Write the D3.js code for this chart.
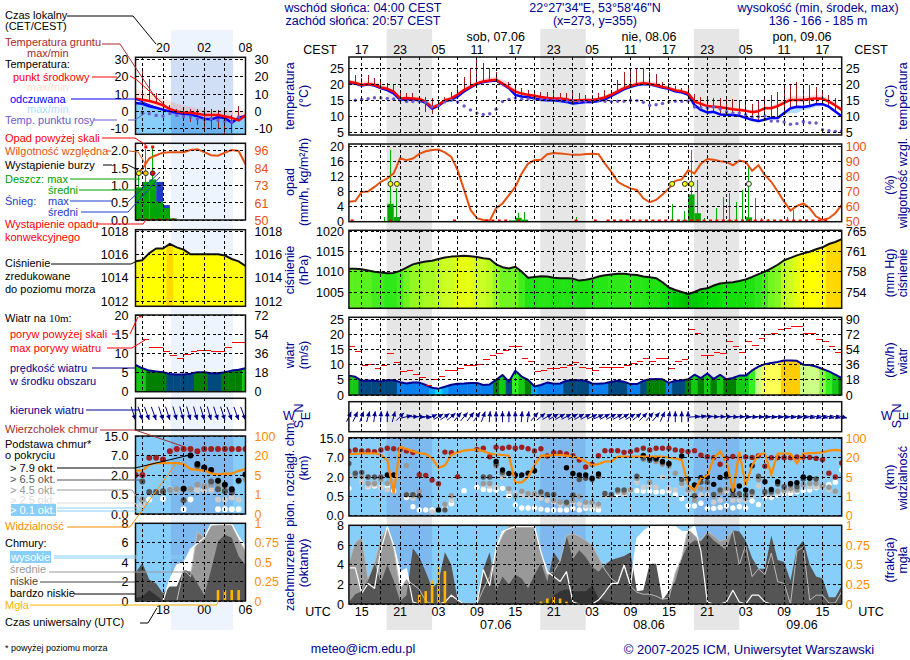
<!DOCTYPE html>
<html>
<head>
<meta charset="utf-8">
<script src="https://cdn.jsdelivr.net/npm/d3@7/dist/d3.min.js"></script>
<style>
  html, body { margin: 0; background: #fff; }
  svg { display: block; font-family: "Liberation Sans", Arial, sans-serif; font-size: 12px; }
</style>
</head>
<body>
<div class="canvas"></div>
<script>
const _ = null;

// ---- main panel (hourly, 13 UTC 06.06 - 18 UTC 09.06)
const localHours = ['17','23','05','11','17','23','05','11','17','23','05','11','17'];
const utcHours = ['15','21','03','09','15','21','03','09','15','21','03','09','15'];
const dayLabels = ['sob, 07.06','nie, 08.06','pon, 09.06'];
const dateLabels = ['07.06','08.06','09.06'];

const temp = [20.8,20.4,19.8,20.1,19.8,19,18.6,17.7,15.6,15.7,15.6,15.4,14.6,12.7,13.6,15,15.6,16.8,18.2,19.3,20.3,20.9,21.2,21.4,20.2,19,17.7,17.1,16.7,16.4,16,15.7,15.6,15.6,15.3,14.9,15,15.1,15.1,15.4,15.9,16.8,17.8,18.8,19.5,20,20.3,20.1,19.7,19.2,18.8,18.1,17.8,17.2,14.6,13.9,13.2,13,12.8,12.5,12.2,12,11.7,11.3,11.6,12.5,12.5,13.2,14.2,15.1,15.1,15.1,15.4,15.6,15.5,14.6,13.4,12];
const feel = [20.6,20.2,19.6,20,19.6,18.8,18.2,17.2,15.2,15.3,15.3,15,14.2,12.4,13.3,14.8,15.2,16.2,17.8,19,20.1,20.7,21,21.2,20,18.8,16.7,16.2,16,15.6,15.2,15,15,14.8,14.5,14,14.2,14.5,14.5,14.8,15.3,16.4,17.4,18.5,19.2,19.8,20.1,20,19.5,19,18.6,17.8,17.5,16.8,13.5,12,11.2,11.4,10.6,10.5,10.4,10.2,9.5,8.9,8.5,9,9.5,9.5,11,12.5,13,12.9,13.2,13.8,13.8,13,11.5,10];
const tempHi = [21.5,21.2,20.8,21,20.8,20,19.2,18.2,16.2,16.3,16.2,16,15,13.5,14.2,15.5,16.2,17.5,19,20.2,21,21.8,22.2,22.3,21.4,20.5,18.5,17.6,17.1,16.8,16.5,16.2,16.2,16.2,15.9,15.5,15.5,15.6,15.6,16,16.5,17.5,18.5,19.5,20.3,20.8,21.2,21,20.6,20,19.5,18.8,18.3,17.8,15.5,14.8,14.2,13.8,13.5,13.2,13,12.8,12.3,12,12.3,13.2,13.4,14.2,15.4,16.2,16.5,16.2,16.4,16.6,16.4,15.6,14.2,12.7];
const feelLo = [20.2,19.8,19.2,19.6,19.2,18.4,17.8,16.8,14.8,14.9,14.9,14.6,13.8,12,12.9,14.4,14.8,15.8,17.4,18.6,19.7,20.3,20.6,20.8,19.6,18.4,16.2,15.7,15.5,15.1,14.7,14.5,14.5,14.3,14,13.5,13.7,14,14,14.3,14.8,15.9,16.9,18,18.7,19.3,19.6,19.5,19,18.5,18.1,17.3,17,16.3,13,11.5,10.7,10.9,10.1,10,9.9,9.7,9,8.4,8,8.5,9,9,10.5,11,11,12,12.3,13,13.4,12.6,11,9.6];
const groundMax = [_,22.9,21.9,22.9,21.9,20.8,20.3,19.8,17.7,17.2,17.2,16.1,16.1,15.6,15.1,16.1,17.7,18.7,22.4,25,27.6,26.6,25,24,20.8,20.8,19.3,18.8,18.2,18.2,17.7,17.7,17.7,17.2,17.2,17.2,17.2,16.7,16.7,17.2,18.2,17.3,21.4,24,24.5,25,25,24,23.1,20.8,20.3,19.5,19,18.8,16.9,16,15.8,15.8,15.6,15.6,15.3,15.1,14.9,14,15.1,16.1,16.7,17.7,19.8,19.8,20.6,19.8,19.8,19.3,17.2,16.7,15.6,_];
const groundMin = [_,20.4,19.6,20,19.6,18.8,18.2,17.2,15.2,15.3,15.3,15,11.5,10.6,13.3,14.8,15.2,16.2,17.8,19,20.1,20.7,21,21.2,20,18.8,16.7,16.2,16,15.6,15.2,15,15,14.8,14.5,14,14.2,14.5,14.5,14.8,15.3,16.4,17.4,18.5,19.2,19.8,20.1,20,19.5,19,18.6,17.8,17.5,16.8,13.5,12,11.2,11.4,10.6,10.5,10.4,10.2,9.5,8.9,8.5,9,9.5,9.5,11,12.5,13,12.9,13.2,13.8,13.8,13,11.5,_];
const dew = [_,15,15.3,15.5,15.8,15.7,15.6,15.4,15,14.6,14.6,14.6,14.4,13,13.3,14.5,15,14.5,13.2,12,11,10.6,10.8,12.2,14.6,15.3,15.7,15.3,15.4,15.4,15.2,15.2,15,15,14.8,14.8,14.6,14.7,14.8,14.9,14.7,14.6,14.7,14.7,15,14.9,14.4,13.4,13.6,14,14.5,14.7,14.7,14.8,12.9,12.7,12.6,12.9,12.3,11.4,11,11,10.5,9.8,9.9,10.1,8.5,8.5,8.2,7.5,7.7,8.3,8,7.9,5.8,5.5,5.3,5.5];

const humidity = [63.2,63.6,69.6,70,73,76.4,78.6,82,92,90.7,91.9,95,96.7,97.6,97.8,96,93,84,71,57.7,52.2,51,50.6,58.8,62,67.6,73,82,88.5,90.7,91,94.7,95.6,95.2,94.8,94.3,94.3,94.8,95,94.8,88.5,83,76.4,74,72,71,65.4,62.8,64.3,68,72,77,78,84,82,88.5,91.6,91,90,89.6,87.4,90.5,89.6,83.7,87.4,80.8,76.4,70,63.2,57.3,60.3,62,58.8,53.3,51,52.2,55.5,61];
const rainMean = [0,0,0,0,0,0,4.7,1.2,0,0,0,0,0,0,0,0,0,0,0,0,0,0,0,0,0,.3,1,.5,0,0,0,0,0,0,0,0,0,0,0,0,0,0,0,0,0,0,0,0,0,0,0,0,.3,7.2,2.2,0,0,0,0,.3,0,0,1.1,0,0,0,0,0,0,0,0,0,0,0,0,0,0,0];
const rainMax = [0,0,0,0,0,1.3,19,8.8,0,0,0,0,0,0,0,0,0,0,0,0,0,0,0,0,0,0,2.2,2.5,0,0,0,0,0,0,0,1.2,0,0,0,0,0,0,0,0,0,0,0,0,0,0,4.7,0,2.8,19,11,.9,0,3.5,6.6,7.5,5.3,8.5,14.5,6.2,.9,.7,0,0,1.1,3,0,0,0,0,0,0,0,0];
const convectiveHours = [0,6,16,21,22,23,24,26,35,38,40,41,42,43,44,45,46,47,48,49,50,51,52,53,54,55,56,57,58,59,60,61,62,63,64,65,66,67,68,69,70,71,72,73,74];
const stormHours = [6,7,50,52,53,62];

const pressure = [1010.7,1010.7,1010.6,1010.3,1010,1009.8,1009.6,1009.7,1010.2,1011,1011.8,1012.2,1012.5,1012.7,1013.1,1013.5,1013.7,1013.8,1013.9,1013.8,1013.6,1013.3,1013.1,1011.8,1011.1,1010.8,1011.2,1010,1008.5,1008.7,1008.9,1008.8,1008.5,1008.4,1008.4,1008.3,1007.8,1008,1008.3,1008.8,1009.1,1009.3,1009.5,1009.5,1009.3,1009.2,1008.8,1008.6,1008.4,1007.4,1006.1,1005.5,1005,1004.5,1005,1005.7,1005.9,1006.6,1007.1,1007.3,1007.4,1007.7,1008.1,1008.7,1009.4,1010,1010.8,1011.7,1012.8,1013.4,1014,1014.5,1014.9,1015.5,1016,1016.8,1017.3,1018];
const wind = [6.4,6,4.7,4.8,4.7,4.5,4.9,4.9,4.2,3.8,4.1,4.1,3.3,2.4,2.1,2.7,3.4,3.7,3.8,4,4,3.3,3.5,5,6.6,4.4,8,6.1,5,2.8,3.3,4.1,3.7,3.8,4.7,4.9,4.9,4.7,3.8,3.7,3.9,4.4,4.7,4.4,3.6,3.6,4.7,5.2,5.3,5.2,4,4.7,4.8,5.2,6.7,5.6,7.1,5.3,6.7,5.2,5.6,6.4,6.4,8.1,9.4,10.2,10.6,10.9,11.4,11.4,11.3,10,9.9,9.4,8.6,7.8,6.7,5.6];
const gust = [15.9,14.3,9.9,10.1,8.9,9.6,13.6,10.6,7.7,8,6.8,5.9,3.2,5.2,6.2,8,8,8.9,9.6,9.6,10,11.6,13.2,13.6,14.7,15.9,15.9,11.9,11.2,7.6,8.2,8.9,8.6,9.2,9.6,10.6,9.2,8.7,8,9.1,9.2,9.2,9.2,9.9,10.4,10.9,11.9,11.2,11.9,12.2,8.9,11.2,11.6,21.5,20.3,13.2,13.2,13.9,13.6,17.6,15.9,13.9,17.6,16.2,18.6,19.9,20.3,21.5,21.9,22.6,22.6,20.3,20.3,18.2,17.6,15.9,13.9,_];
const windDir = [25,25,20,15,8,3,0,15,45,75,90,95,90,65,60,55,50,40,40,38,35,20,5,0,0,0,0,5,8,40,50,60,60,60,62,60,60,62,65,65,62,62,60,60,60,50,45,42,40,25,10,0,0,0,85,80,85,90,90,90,95,92,95,95,95,95,98,98,100,100,102,102,103,105,105,105,105,105];

const baseTop = [9.8,10.2,9.8,9.8,9.5,10.2,10.9,10.7,10.4,9.8,9.1,2.6,2.4,1.77,1.48,9.3,9,2.1,_,_,10.4,10.9,7.4,11.3,10.9,11.3,10.9,11.3,10.7,9.8,10.7,7.7,9,9,8.5,7.8,6.4,4.6,5.3,7.8,9.9,9.9,9.9,9.2,9.5,10.2,10.9,10.2,10.9,10.9,10.9,10.2,9.9,9.5,9.9,8,7.4,7,5.3,6.8,7.5,7,7.3,7.1,7.8,4.8,7,7,7,7,7.3,7.2,7.1,6.8,6.5,3,2,5.6];
const base79 = [_,_,_,_,_,_,2.5,2.5,_,_,_,_,_,_,.15,_,_,_,_,_,_,_,_,6,3.8,2.9,2.5,2.5,3,3.6,_,_,_,_,4.4,2.9,2.5,2.5,1.9,2.8,_,_,_,_,_,_,7.86,6.8,6.8,6,5.5,_,7.7,1.82,1.38,1.95,2,1.43,1.97,2.7,.99,1.3,.99,4.9,_,1.64,1.04,1.64,_,1.5,1.56,2,1.9,_,_,_,_,_];
const base65 = [5.5,3,3.2,2,2,2,_,_,_,.62,.62,.55,_,_,_,.15,_,_,_,_,_,2,2,5.3,3.2,_,_,_,_,_,.85,.65,.65,_,.35,.6,1.8,1.9,1.8,2.2,.73,.65,1,1,_,2.2,6.9,6.3,6.5,5.7,5.3,_,1.8,_,.55,1.6,1.6,.65,1,2,.65,.7,.6,.86,2.2,.86,.86,1.45,1.25,1.4,1.25,1.85,1.95,1.85,_,_,_,_];
const base45 = [_,2.2,2,1.5,1.5,1.8,1.5,_,_,5,.62,.9,_,_,_,.3,.55,_,_,_,_,1.5,1.5,4.8,2.7,1.1,.55,.9,.7,.7,.7,.6,.4,.35,.3,.4,.5,.35,.35,.3,.65,.6,.9,.8,1,1.9,6.5,1.6,6,5.2,4.8,3,1.5,1,.4,1.1,1.1,.5,.8,1.1,.55,.55,.45,.7,1.8,.75,.75,.9,1,1.1,1,1.4,1.5,1.5,1.3,1.2,.9,_];
const base25 = [2.2,_,1.6,1.3,1.4,1.2,1,2.1,_,.65,.45,.7,_,.1,_,.25,.4,_,_,_,_,1.4,1.3,1.2,2,.9,.7,.6,.5,.5,.45,.4,.35,.3,.3,.35,.3,.25,.25,.25,.55,.55,.8,.75,.95,1.6,1.2,1.3,1.2,2,1.1,1,1.4,.8,.4,.6,.6,.35,.4,.9,.4,.4,.4,.55,1.3,.65,.65,.75,.85,.95,.95,1.2,1.25,1.25,1.2,1,.85,_];
const base01 = [1.12,_,1.97,1.25,1.3,1.2,1.28,.94,_,.47,.23,.15,.15,.15,_,.19,.31,_,.94,_,1.2,1.04,1,1,1.12,.55,.28,.2,.2,.2,.17,.15,.15,.15,.15,.19,.15,.19,.17,.15,.6,.6,.65,.73,.93,.94,.91,.91,.84,.86,.91,.65,.45,.25,.25,.32,.19,.19,.21,.26,.2,.23,.2,.38,.29,.49,.47,.6,.73,.73,.86,.94,1,1.17,1.25,1.43,1.6,3.8];
const visibility = [35,36,38,38,38,32,18,1.6,65,56,47,39,35,19.5,12,14,31,42,49,52,53,47,37,33,31,28,3.9,3.9,5,14,28,28,31,31,28,24,19.5,17,14,15,17,17,24,24,24,24,24,24,24,24,20,19.5,18,3.3,2.2,4.7,6,19.5,45,17,2,45,3.3,14,33,37,7,37,37,37,15.6,37,39,40,42,49,52,49];

const cloudHigh = [3.7,3.7,1.1,2.1,1.6,5.5,7.9,6,3.3,3.6,.2,0,0,0,0,.2,.9,.4,0,0,0,3.5,1.9,5.7,7.4,7.7,7.9,7.9,7.9,7.9,5.3,3.3,2.8,2.3,3.3,.2,0,0,0,.4,1.2,2.1,2.1,4,1.9,6.7,7.4,7.9,8,8,8,7.9,7.4,7.4,8,5.4,.2,0,0,.2,1.4,.2,0,.9,.9,.2,0,0,0,0,0,0,0,0,0,0,0,0];
const cloudMid = [4.2,6.3,6.8,2.6,4.2,6.7,7.9,5.7,1.5,2.5,2,1.5,.3,0,0,0,0,0,0,0,0,1.5,2.8,5.5,7,8,8,8,8,8,5.5,3,3.3,4.4,7,7.2,6.9,6.5,6,4.8,3.5,2.6,2.1,3.9,1.8,1.2,1,1,.8,.5,.6,3.2,4.7,7.7,7,6.5,7.4,7,6.4,6.7,7.5,4,6,2.8,3.6,3,5.2,2.3,2.1,0,5.4,5.8,.4,.9,.9,.1,.1,1.3];
const cloudLow = [.2,1,1.3,2.4,4.2,2.2,4,2.4,.3,.9,5.7,4.8,3.3,1.6,2.3,5.3,4,.4,.1,0,0,3.6,5.3,1.3,2.8,2,3,2.6,1.6,3,4.2,2.3,5.3,4.3,7,4.6,5.5,4.8,3.8,3.3,4,4.5,4.7,4.9,5.3,1.3,1.4,4.1,4.1,.4,1.3,2.3,4.7,6,6.5,6.4,7.2,6.5,6,5.5,7.5,7.4,6.5,4.7,3.6,3.6,7,4.5,4.3,2.4,5.7,6.5,4,2.8,2.6,.7,.7,1.9];
const cloudVLow = [0,0,0,0,0,0,0,0,0,0,0,0,0,0,0,0,0,0,0,0,0,0,0,0,0,0,0,0,0,0,0,0,.9,1.3,1.5,1.3,1.3,1.3,1.9,.6,.3,.2,.1,0,0,0,0,0,0,0,0,0,0,0,0,0,0,0,0,0,0,0,0,0,0,0,0,0,0,0,0,0,0,0,0,0,0,0];
const fog = [0,0,0,0,0,0,0,0,0,0,0,.115,.165,.3,.5,.42,0,0,0,0,0,0,0,0,0,0,0,0,0,0,.03,.07,.09,.07,.03,0,0,0,0,0,0,0,0,0,0,0,0,0,0,0,0,0,0,0,0,0,0,0,0,0,0,0,0,0,0,0,0,0,0,0,0,0,0,0,0,0,0,0];

// ---- side panel (hourly, 14 UTC - 06 UTC)
const sideLocal = ['20','02','08'];
const sideUtc = ['18','00','06'];
const sTemp = [7.3,6.7,6,5,3.5,1.5,0,-.6,-.8,-1.3,-2.1,-2.1,-2.1,-2.9,-3.7,-5.2,-2.3];
const sFeel = [4.8,4.4,3,2.1,1,0,-.8,-1.3,-1.7,-2.9,-4.2,-4.6,-3.3,-3.8,-6.5,-3.7,-2.7];
const sTempHi = [13,11.5,10,8.5,7.3,5.8,4.4,3.4,2.5,1.5,.6,.6,.6,.6,.6,.2,.4];
const sGroundMax = [_,24.8,19,10.4,6.3,3.5,1.5,1.5,1.5,1.5,1.5,1.5,.6,1.5,-2.3,3,_];
const sGroundMin = [_,6.7,6,5,3.5,1.5,0,-3.3,-6.2,-8.1,-10,-11,-9.6,-12.8,-12.2,-5.2,_];
const sDew = [_,-1,-1.3,-2.3,-2.7,-1.3,-2.3,-2.9,-3.3,-4.2,-4.6,-4.2,-5.2,-5.6,-6.2,-3.3,_];
const sHumidity = [80,84,91,93,94.7,95,95,95,96.5,97,95,93,92.7,94.7,96.5,95.8,87];
const sRain = [.94,1.1,1.17,.53,.34,.05,0,0,0,0,0,0,0,0,0,0,0];
const sSnow = [0,0,0,1.1,.43,0,0,0,0,0,0,0,0,0,0,0,0];
const sRainMax = [1.36,2.05,2.1,0,0,0,0,0,0,0,0,0,0,0,0,0,0];
const sPressure = [1015.4,1015.5,1016.1,1016.5,1016.5,1016.9,1016.6,1016.4,1016,1016,1016,1016,1016,1015.9,1015.6,1015.4,1015];
const sWind = [7,6.1,5.5,5.3,5.1,4.6,4.5,4.5,4.7,5.1,5.1,4.8,4.8,5.1,5.5,5.7,6.1];
const sGust = [_,13.5,11.6,11.4,10.4,9.4,8.7,9.7,10.4,10.7,10.8,10.4,10.4,11.6,12.7,12.9,_];
const sWindDir = [162,162,160,160,162,162,164,164,164,164,164,164,162,162,160,160,160];
const sBaseTop = [2,2,6.4,6.4,6,8.7,9.7,9.7,9.7,8.7,9.7,9.7,9.7,9.7,9.7,9.7,9.7];
const sBase79 = [_,_,_,_,_,_,_,.95,7,4.8,3.9,3.3,1.55,1.25,.9,1.55,2.1];
const sBase65 = [_,1.5,.7,.7,.75,_,_,.35,_,4.3,3.6,1.5,.9,.75,.65,_,_];
const sBase45 = [_,.37,_,_,.7,.85,.9,.9,.9,1.25,1.1,1.25,1.25,.9,.8,_,1.7];
const sBase25 = [.2,.25,_,_,_,.9,.85,_,_,.85,.85,.85,.37,.37,.42,.37,_];
const sBase01 = [_,.25,.37,_,.39,_,_,.12,.37,.85,.85,_,.12,.12,.12,.12,_];
const sVisibility = [8.4,8.4,12.9,14.2,14.2,14.2,14.2,13.4,9.5,8.9,8.4,6.3,5.5,6,6,8.2,9.5];
const sHigh = [0,0,0,0,0,2.2,3.7,3.9,5.3,5.9,6.5,7.9,7.9,7.9,7.9,6.6,5.6];
const sMid = [0,0,0,0,0,0,0,3.2,2.5,7.1,6.5,7.7,7.8,7.8,7.8,6.3,5.1];
const sLow = [2.9,3.9,2.2,1.8,.8,1.5,1.5,3.2,3,1.8,.6,3.2,6.1,6.8,6.5,4.6,3.7];
const sVLow = [.3,.45,1.1,.6,0,0,0,0,0,0,0,0,0,0,0,0,0];
const sFog = [0,0,0,0,0,0,0,0,0,0,0,0,.14,.14,.14,.14,0];

// ---- layout
const navy = '#000090', orange = '#ff8c00', humColor = '#e8500f', sky = '#87cefa', skyNight = '#7db9ee';
const dash = '3,2.5';
const W = 910, H = 660;

const svg = d3.select('.canvas').append('svg').attr('width', W).attr('height', H);
const x = d3.scaleLinear().domain([0, 77]).range([348.9, 841.7]);
const sx = d3.scaleLinear().domain([0, 16]).range([135.5, 245.5]);
const hourW = x(1) - x(0), sHourW = sx(1) - sx(0);
const mainHours = d3.range(0, 13).map(k => 2 + 6 * k);
const mainGrid = d3.range(0, 25).map(k => 2 + 3 * k);
const sideHours = [4, 10, 16];
const sideGrid = [1, 4, 7, 10, 13];
const nights = [[5.9, 13], [29.9, 37], [53.9, 61]];

// night bands
nights.forEach(n => {
  svg.append('rect').attr('x', x(n[0])).attr('y', 29).attr('width', x(n[1]) - x(n[0])).attr('height', 601).attr('fill', '#e6e6e6');
});
svg.append('rect').attr('x', sx(5.15)).attr('y', 30).attr('width', sx(14.2) - sx(5.15)).attr('height', 600).attr('fill', '#eef4fe');

const clipCount = { n: 0 };
const panel = (xs, top, bottom, yDomain, yRange) => {
  const y = d3.scaleLinear().domain(yDomain).range(yRange);
  const [x0, x1] = xs.range();
  const g = svg.append('g');
  clipCount.n += 1;
  const id = `clip${clipCount.n}`;
  g.append('clipPath').attr('id', id).append('rect').attr('x', x0).attr('y', top).attr('width', x1 - x0).attr('height', bottom - top);
  const marks = g.append('g').attr('clip-path', `url(#${id})`);
  return { y, g, marks, id, x0, x1, top, bottom, xs };
};

const grid = (p, yVals, xVals) => {
  const dg = p.g.append('g').attr('stroke', '#000').attr('stroke-width', 1).attr('stroke-dasharray', dash).attr('shape-rendering', 'crispEdges');
  yVals.forEach(v => dg.append('line').attr('x1', p.x0).attr('x2', p.x1).attr('y1', p.y(v)).attr('y2', p.y(v)));
  xVals.forEach(v => dg.append('line').attr('x1', p.xs(v)).attr('x2', p.xs(v)).attr('y1', p.top).attr('y2', p.bottom));
};

const frame = p => {
  p.g.append('rect').attr('x', p.x0).attr('y', p.top).attr('width', p.x1 - p.x0).attr('height', p.bottom - p.top)
    .attr('fill', 'none').attr('stroke', '#111').attr('stroke-width', 1.5);
};

const labels = (p, vals, texts, side, color, gap) => {
  const axis = (side === 'left' ? d3.axisLeft(p.y) : d3.axisRight(p.y))
    .tickValues(vals).tickSize(0).tickPadding(0).tickFormat((d, i) => texts[i]);
  const ax = p.g.append('g').attr('transform', `translate(${side === 'left' ? p.x0 - gap : p.x1 + gap},0)`).call(axis);
  ax.select('.domain').remove();
  ax.selectAll('text').attr('font-size', 12.5).attr('font-family', 'inherit').attr('fill', color || '#000');
};

const lineOf = (xs, y, data) => d3.line().defined(d => d !== null).x((d, i) => xs(i)).y(d => y(d))(data);

const drawLine = (p, data, color, width) => {
  p.marks.append('path').attr('d', lineOf(p.xs, p.y, data)).attr('fill', 'none').attr('stroke', color).attr('stroke-width', width).attr('stroke-linejoin', 'round');
};

const bandArea = (p, hi, lo, color) => {
  const area = d3.area().x((d, i) => p.xs(i)).y0((d, i) => p.y(lo[i])).y1((d, i) => p.y(hi[i]));
  p.marks.append('path').attr('d', area(hi)).attr('fill', color);
};

const fillUnder = (p, data, color) => {
  const area = d3.area().x((d, i) => p.xs(i)).y0(p.bottom).y1(d => p.y(d));
  p.marks.append('path').attr('d', area(data)).attr('fill', color);
};

const whiskers = (p, hi, lo) => {
  hi.forEach((d, i) => {
    if (d === null) return;
    p.marks.append('line').attr('x1', p.xs(i)).attr('x2', p.xs(i)).attr('y1', p.y(d)).attr('y2', p.y(lo[i]))
      .attr('stroke', '#a01c1c').attr('stroke-width', 1).attr('shape-rendering', 'crispEdges');
  });
};

const dots = (p, data, r, color) => {
  p.marks.selectAll(null).data(data.map((d, i) => [d, i]).filter(d => d[0] !== null)).enter().append('circle')
    .attr('cx', d => p.xs(d[1])).attr('cy', d => p.y(d[0])).attr('r', r).attr('fill', color);
};

const columnFill = (p, data, colorOf, w) => {
  const id = `${p.id}a`;
  const area = d3.area().x((d, i) => p.xs(i)).y0(p.bottom).y1(d => p.y(d));
  p.g.append('clipPath').attr('id', id).append('path').attr('d', area(data));
  const cols = p.marks.append('g').attr('clip-path', `url(#${id})`);
  data.forEach((d, i) => {
    cols.append('rect').attr('x', p.xs(i) - w / 2).attr('y', p.top).attr('width', w + .5).attr('height', p.bottom - p.top).attr('fill', colorOf(d));
  });
};

const pressureColor = d3.scaleLinear().domain([1004, 1006, 1009.5, 1011, 1013.5, 1014.5])
  .range(['#00b800', '#00d800', '#2ee81a', '#70f520', '#ccff22', '#ffff00']).clamp(true);
const pressureStep = d => (d >= 1016.7 ? '#ffd800' : pressureColor(Math.round(d * 2) / 2));
const windColor = d3.scaleThreshold().domain([2.2, 3, 4.3, 5, 6, 7.8, 8.4, 9, 10.2, 11.2])
  .range(['#00e5ff', '#00a8ff', '#0a80f0', '#004a80', '#008000', '#14c814', '#33f020', '#80ff40', '#ccff88', '#ffff55', '#ffcc00']);

const arrows = (p, dirs, cy, len, anchorHead) => {
  const ag = p.g.append('g').attr('stroke', navy).attr('fill', navy);
  dirs.forEach((b, i) => {
    const a = b * Math.PI / 180;
    const dx = Math.sin(a), dy = -Math.cos(a);
    const hx = p.xs(i) + (anchorHead ? 0 : dx * len / 2);
    const hy = cy + (anchorHead ? 0 : dy * len / 2);
    ag.append('line').attr('x1', hx - dx * len).attr('y1', hy - dy * len).attr('x2', hx).attr('y2', hy).attr('stroke-width', 1);
    ag.append('path').attr('stroke', 'none')
      .attr('d', `M${hx},${hy}L${hx - dx * 5 - dy * 2.4},${hy - dy * 5 + dx * 2.4}L${hx - dx * 5 + dy * 2.4},${hy - dy * 5 - dx * 2.4}Z`);
  });
};

const baseScale = (top, bottom) => [[0, .5, 2, 7, 15], d3.range(5).map(k => bottom + (top - bottom) * k / 4)];
const visLabels = [0, 1, 5, 20, 100];

const skyBackground = p => {
  p.marks.append('rect').attr('x', p.x0).attr('y', p.top).attr('width', p.x1 - p.x0).attr('height', p.bottom - p.top).attr('fill', sky);
  (p.xs === x ? nights.map(n => [x(n[0]), x(n[1])]) : [[sx(5.15), sx(14.2)]]).forEach(n => {
    p.marks.append('rect').attr('x', n[0]).attr('y', p.top).attr('width', n[1] - n[0]).attr('height', p.bottom - p.top).attr('fill', skyNight);
  });
};

const drawBase = (p, r, series, vis, yVis) => {
  skyBackground(p);
  ['#fff', '#ccc', '#999', '#555', '#000', '#a02020'].forEach((c, k) => dots(p, series[k], r, c));
  p.marks.append('path').attr('d', lineOf(p.xs, yVis, vis)).attr('fill', 'none').attr('stroke', orange).attr('stroke-width', 2.2);
};

const drawClouds = (p, high, mid, low, vlow) => {
  skyBackground(p);
  fillUnder(p, high, '#fff');
  fillUnder(p, mid, '#999');
  fillUnder(p, low, '#555');
  fillUnder(p, vlow, '#333');
  drawLine(p, mid, '#bbb', 1);
  drawLine(p, high, '#fff', 1.2);
};

const fogBars = (p, yFog, data, w) => {
  data.forEach((d, i) => {
    if (d > 0) p.marks.append('rect').attr('x', p.xs(i) - w / 2).attr('y', yFog(d)).attr('width', w).attr('height', p.bottom - yFog(d)).attr('fill', '#ffb400');
  });
};

// ---- main panels
const pTemp = panel(x, 57, 135, [5, 25], [132.3, 68.3]);
bandArea(pTemp, tempHi, temp, '#ffd8d8');
bandArea(pTemp, feel, feelLo, '#b4dcff');
whiskers(pTemp, groundMax, groundMin);
drawLine(pTemp, feel, '#0000ff', 2.5);
drawLine(pTemp, temp, '#ff0000', 2.5);
dots(pTemp, dew, 1.7, '#6a5acd');
grid(pTemp, [5, 10, 15, 20, 25], mainGrid);
labels(pTemp, [5, 10, 15, 20, 25], ['5', '10', '15', '20', '25'], 'left', '#000', 5);
labels(pTemp, [5, 10, 15, 20, 25], ['5', '10', '15', '20', '25'], 'right', '#000', 4);
frame(pTemp);

const pRain = panel(x, 144, 221.7, [0, 20], [221.5, 146.3]);
const yHum = d3.scaleLinear().domain([50, 100]).range([221.5, 146.3]);
rainMax.forEach((d, i) => {
  if (d > 0) pRain.marks.append('line').attr('x1', x(i) + hourW / 2).attr('x2', x(i) + hourW / 2).attr('y1', pRain.y(d)).attr('y2', pRain.y(0)).attr('stroke', '#00b000').attr('stroke-width', 1).attr('shape-rendering', 'crispEdges');
});
rainMean.forEach((d, i) => {
  if (d > 0) pRain.marks.append('rect').attr('x', x(i)).attr('y', pRain.y(d)).attr('width', hourW).attr('height', pRain.y(0) - pRain.y(d)).attr('fill', '#00a800');
});
pRain.marks.append('path').attr('d', lineOf(x, yHum, humidity)).attr('fill', 'none').attr('stroke', humColor).attr('stroke-width', 2);
convectiveHours.forEach(i => {
  pRain.marks.append('rect').attr('x', x(i) + hourW / 2 - 1.5).attr('y', 219.5).attr('width', 3).attr('height', 2.5).attr('fill', '#f00');
});
grid(pRain, [0, 4, 8, 12, 16, 20], mainGrid);
stormHours.forEach((i, k) => {
  pRain.marks.append('circle').attr('cx', x(i) + hourW / 2).attr('cy', pRain.y(10)).attr('r', 2.5)
    .attr('fill', k === 5 ? '#f4f4d0' : '#ffff00').attr('stroke', '#333').attr('stroke-width', 1);
});
labels(pRain, [0, 4, 8, 12, 16, 20], ['0', '4', '8', '12', '16', '20'], 'left', '#000', 5);
labels({ ...pRain, y: yHum }, [50, 60, 70, 80, 90, 100], ['50', '60', '70', '80', '90', '100'], 'right', humColor, 4);
frame(pRain);

const pPress = panel(x, 230.3, 308.3, [1005, 1020], [292, 231]);
columnFill(pPress, pressure, pressureStep, hourW);
drawLine(pPress, pressure, '#111', 2);
grid(pPress, [1005, 1010, 1015, 1020], mainGrid);
labels(pPress, [1005, 1010, 1015, 1020], ['1005', '1010', '1015', '1020'], 'left', '#000', 5);
labels(pPress, [1005, 1010, 1015, 1020], ['754', '758', '761', '765'], 'right', '#000', 4);
frame(pPress);

const pWind = panel(x, 317.3, 395, [0, 25], [395, 319.3]);
columnFill(pWind, wind, windColor, hourW);
drawLine(pWind, wind, '#000090', 2);
gust.forEach((d, i) => {
  if (d !== null) pWind.marks.append('line').attr('x1', x(i)).attr('x2', x(i + 1)).attr('y1', pWind.y(d)).attr('y2', pWind.y(d)).attr('stroke', '#f00').attr('stroke-width', 1).attr('shape-rendering', 'crispEdges');
});
grid(pWind, [0, 5, 10, 15, 20, 25], mainGrid);
labels(pWind, [0, 5, 10, 15, 20, 25], ['0', '5', '10', '15', '20', '25'], 'left', '#000', 5);
labels(pWind, [0, 5, 10, 15, 20, 25], ['0', '18', '36', '54', '72', '90'], 'right', '#000', 4);
frame(pWind);

const pDir = panel(x, 401.7, 431.7, [0, 1], [431.7, 401.7]);
grid(pDir, [], mainGrid);
arrows(pDir, windDir, 416.7, 11, false);
frame(pDir);

const [bDom, bRange] = baseScale(438.3, 515.7);
const pBase = panel(x, 437.7, 516, [0, 1], [516, 437.7]);
pBase.y = d3.scaleLinear().domain(bDom).range(bRange);
const yVis = d3.scaleLinear().domain(visLabels).range(bRange);
drawBase(pBase, 2.7, [base01, base25, base45, base65, base79, baseTop], visibility, yVis);
grid(pBase, bDom, mainGrid);
labels(pBase, bDom, ['0.0', '0.5', '2.0', '7.0', '15.0'], 'left', '#000', 5);
labels({ ...pBase, y: yVis }, visLabels, ['0', '1', '5', '20', '100'], 'right', orange, 4);
frame(pBase);

const pCloud = panel(x, 525.3, 604, [0, 8], [604, 525.7]);
const yFog = d3.scaleLinear().domain([0, 1]).range([604, 525.7]);
drawClouds(pCloud, cloudHigh, cloudMid, cloudLow, cloudVLow);
fogBars(pCloud, yFog, fog, 2.6);
grid(pCloud, [0, 2, 4, 6, 8], mainGrid);
labels(pCloud, [0, 2, 4, 6, 8], ['0', '2', '4', '6', '8'], 'left', '#000', 5);
labels({ ...pCloud, y: yFog }, [0, .25, .5, .75, 1], ['0', '0.25', '0.5', '0.75', '1'], 'right', orange, 4);
frame(pCloud);

// ---- side panels
const qTemp = panel(sx, 57.3, 134.3, [-10, 30], [128.7, 59.5]);
fillUnder(qTemp, sFeel, sky);
bandArea(qTemp, sTempHi, sFeel, '#ffe6dc');
qTemp.marks.append('rect').attr('x', sx(5.15)).attr('y', 57).attr('width', sx(14.2) - sx(5.15)).attr('height', 78).attr('fill', '#d0def6').style('mix-blend-mode', 'multiply');
whiskers(qTemp, sGroundMax, sGroundMin);
drawLine(qTemp, sFeel, '#0000ff', 2.5);
drawLine(qTemp, sTemp, '#ff0000', 2.5);
qTemp.marks.selectAll(null).data(sDew.map((d, i) => [d, i]).filter(d => d[0] !== null)).enter().append('rect')
  .attr('x', d => sx(d[1]) - 1.5).attr('y', d => qTemp.y(d[0]) - 1.5).attr('width', 3).attr('height', 3).attr('fill', '#6a5acd');
grid(qTemp, [-10, 0, 10, 20, 30], sideGrid);
labels(qTemp, [-10, 0, 10, 20, 30], ['-10', '0', '10', '20', '30'], 'left', '#000', 7);
labels(qTemp, [-10, 0, 10, 20, 30], ['-10', '0', '10', '20', '30'], 'right', '#000', 9);
frame(qTemp);

const qRain = panel(sx, 143.3, 220, [0, 2], [220, 150.7]);
const yHumS = d3.scaleLinear().domain([50, 96]).range([220, 150.7]);
sRainMax.forEach((d, i) => {
  if (d > 0) qRain.marks.append('line').attr('x1', sx(i) + sHourW / 2).attr('x2', sx(i) + sHourW / 2).attr('y1', qRain.y(d)).attr('y2', qRain.y(0)).attr('stroke', '#00b000').attr('stroke-width', 1).attr('shape-rendering', 'crispEdges');
});
sSnow.forEach((d, i) => {
  if (d > 0) qRain.marks.append('rect').attr('x', sx(i)).attr('y', qRain.y(d)).attr('width', sHourW).attr('height', qRain.y(0) - qRain.y(d)).attr('fill', '#1c3cc8');
});
sRain.forEach((d, i) => {
  if (d > 0) qRain.marks.append('rect').attr('x', sx(i)).attr('y', qRain.y(d)).attr('width', sHourW).attr('height', qRain.y(0) - qRain.y(d)).attr('fill', '#00a800');
});
[1, 2].forEach(i => qRain.marks.append('rect').attr('x', sx(i) + sHourW / 2 - 1.5).attr('y', 145.5).attr('width', 3).attr('height', 3).attr('fill', '#f00'));
[0, 1, 2, 3, 4, 5].forEach(i => qRain.marks.append('rect').attr('x', sx(i) + sHourW / 2 - 1.2).attr('y', 218.5).attr('width', 2.4).attr('height', 2).attr('fill', '#f00'));
qRain.marks.append('path').attr('d', lineOf(sx, yHumS, sHumidity)).attr('fill', 'none').attr('stroke', humColor).attr('stroke-width', 2);
grid(qRain, [0, .5, 1, 1.5, 2], sideGrid);
['#ffff00', '#ffc000', '#f00000'].forEach((c, i) => {
  qRain.marks.append('circle').attr('cx', sx(i) + sHourW / 2).attr('cy', qRain.y(1.35)).attr('r', 2.4).attr('fill', c).attr('stroke', '#333');
});
labels(qRain, [0, .5, 1, 1.5, 2], ['0.0', '0.5', '1.0', '1.5', '2.0'], 'left', '#000', 7);
labels({ ...qRain, y: yHumS }, [50, 61, 73, 84, 96], ['50', '61', '73', '84', '96'], 'right', humColor, 9);
frame(qRain);

const qPress = panel(sx, 229.7, 306.3, [1012, 1018], [301, 231]);
columnFill(qPress, sPressure, pressureStep, sHourW);
drawLine(qPress, sPressure, '#111', 2);
grid(qPress, [1012, 1014, 1016, 1018], sideGrid);
labels(qPress, [1012, 1014, 1016, 1018], ['1012', '1014', '1016', '1018'], 'left', '#000', 7);
labels(qPress, [1012, 1014, 1016, 1018], ['1012', '1014', '1016', '1018'], 'right', '#000', 9);
frame(qPress);

const qWind = panel(sx, 315, 391.7, [0, 20], [391.7, 315]);
columnFill(qWind, sWind, windColor, sHourW);
drawLine(qWind, sWind, '#000090', 2);
sGust.forEach((d, i) => {
  if (d !== null) qWind.marks.append('line').attr('x1', sx(i)).attr('x2', sx(i + 1)).attr('y1', qWind.y(d)).attr('y2', qWind.y(d)).attr('stroke', '#f00').attr('stroke-width', 1).attr('shape-rendering', 'crispEdges');
});
qWind.marks.append('circle').attr('cx', sx(.7)).attr('cy', 316).attr('r', 1.5).attr('fill', '#f00');
grid(qWind, [0, 5, 10, 15, 20], sideGrid);
labels(qWind, [0, 5, 10, 15, 20], ['0', '5', '10', '15', '20'], 'left', '#000', 7);
labels(qWind, [0, 5, 10, 15, 20], ['0', '18', '36', '54', '72'], 'right', '#000', 9);
frame(qWind);

const qDir = panel(sx, 398.3, 430, [0, 1], [430, 398.3]);
grid(qDir, [], sideGrid);
arrows(qDir, sWindDir, 420, 14, true);
frame(qDir);

const [sbDom, sbRange] = baseScale(436, 514);
const qBase = panel(sx, 436, 514, [0, 1], [514, 436]);
qBase.y = d3.scaleLinear().domain(sbDom).range(sbRange);
const yVisS = d3.scaleLinear().domain(visLabels).range(sbRange);
drawBase(qBase, 3, [sBase01, sBase25, sBase45, sBase65, sBase79, sBaseTop], sVisibility, yVisS);
grid(qBase, sbDom, sideGrid);
labels(qBase, sbDom, ['0.0', '0.5', '2.0', '7.0', '15.0'], 'left', '#000', 7);
labels({ ...qBase, y: yVisS }, visLabels, ['0', '1', '5', '20', '100'], 'right', orange, 9);
frame(qBase);

const qCloud = panel(sx, 523.3, 601, [0, 8], [601, 523]);
const yFogS = d3.scaleLinear().domain([0, 1]).range([601, 523]);
drawClouds(qCloud, sHigh, sMid, sLow, sVLow);
fogBars(qCloud, yFogS, sFog, 2.6);
grid(qCloud, [0, 2, 4, 6, 8], sideGrid);
labels(qCloud, [0, 2, 4, 6, 8], ['0', '2', '4', '6', '8'], 'left', '#000', 7);
labels({ ...qCloud, y: yFogS }, [0, .25, .5, .75, 1], ['0', '0.25', '0.5', '0.75', '1'], 'right', orange, 9);
frame(qCloud);

// ---- hour labels
const txt = (t, px, py, color, anchor, size, extra) => {
  const el = svg.append('text').attr('x', px).attr('y', py).attr('fill', color || '#000')
    .attr('text-anchor', anchor || 'start').attr('dominant-baseline', 'central').attr('font-size', size || 11).text(t);
  if (extra) extra(el);
  return el;
};
mainHours.forEach((h, k) => {
  txt(localHours[k], x(h), 50, '#000', 'middle', 12.5);
  txt(utcHours[k], x(h), 612, '#000', 'middle', 12.5);
});
sideHours.forEach((h, k) => {
  txt(sideLocal[k], sx(h), 48, '#000', 'middle', 12.5);
  txt(sideUtc[k], sx(h), 610, '#000', 'middle', 12.5);
});
[495.7, 649, 802].forEach((px, k) => {
  txt(dayLabels[k], px, 37, '#000', 'middle', 12.5);
  txt(dateLabels[k], px, 625, '#000', 'middle', 12.5);
});
txt('CEST', 320, 50, '#000', 'middle', 12.5);
txt('CEST', 871, 50, '#000', 'middle', 12.5);
txt('UTC', 318, 612, '#000', 'middle', 12.5);
txt('UTC', 871, 612, '#000', 'middle', 12.5);

// ---- header & footer
txt('wschód słońca: 04:00 CEST', 363, 8, navy, 'middle', 12.5);
txt('zachód słońca: 20:57 CEST', 363, 21, navy, 'middle', 12.5);
txt('22°27\'34"E, 53°58\'46"N', 595, 8, navy, 'middle', 12.5);
txt('(x=273, y=355)', 595, 21, navy, 'middle', 12.5);
txt('wysokość (min, środek, max)', 818, 8, navy, 'middle', 12.5);
txt('136 - 166 - 185 m', 818, 21, navy, 'middle', 12.5);
txt('meteo@icm.edu.pl', 363, 649, navy, 'middle', 12.5);
txt('© 2007-2025 ICM, Uniwersytet Warszawski', 749, 649, navy, 'middle', 13);

// ---- rotated axis titles
const vert = (t, px, py) => txt(t, px, py, navy, 'middle', 12.5, el => el.attr('transform', `rotate(-90 ${px} ${py})`));
[
  ['temperatura', 290, 96], ['(°C)', 304, 96], ['opad', 290, 182], ['(mm/h, kg/m²/h)', 304, 182],
  ['ciśnienie', 290, 270], ['(hPa)', 304, 270], ['wiatr', 290, 355], ['(m/s)', 304, 355],
  ['pion. rozciągł. chm.', 290, 473], ['(km)', 304, 468], ['zachmurzenie', 290, 572], ['(oktanty)', 304, 563],
  ['(°C)', 890, 96], ['temperatura', 903, 96], ['(%)', 890, 185], ['wilgotność wzgl.', 903, 183],
  ['(mm Hg)', 890, 273], ['ciśnienie', 903, 273], ['(km/h)', 890, 360], ['wiatr', 903, 361],
  ['(km)', 890, 477], ['widzialność', 903, 478], ['(frakcja)', 890, 560], ['mgła', 903, 560]
].forEach(d => vert(d[0], d[1], d[2]));

// compass
[299, 897].forEach(cx => {
  txt('W', cx - 10, 416, navy, 'middle', 12.5);
  vert('N', cx, 408);
  vert('E', cx + 7, 416);
  vert('S', cx, 424);
});

// ---- legend
const brown = '#a52a2a', red = '#f00', green = '#00a000', blue = '#1c3cc8', purple = '#6a5acd';
const legendTexts = [
  ['Czas lokalny', 5, 15, '#000'], ['(CET/CEST)', 5, 26, '#000'],
  ['Temperatura gruntu', 5, 42, brown], ['max/min', 27, 53, brown],
  ['Temperatura:', 5, 64, '#000'], ['punkt środkowy', 13, 77, red], ['max/min', 27, 87, '#ffdfd0'],
  ['odczuwana', 10, 99, '#0000ff'], ['max/min', 27, 109, '#aee0ff'], ['Temp. punktu rosy', 5, 120, purple],
  ['Opad powyżej skali', 5, 138, red], ['Wilgotność względna', 5, 151, humColor], ['Wystąpienie burzy', 5, 165, '#000'],
  ['Deszcz: max', 5, 179, green], ['średni', 48, 190, green], ['Śnieg:', 5, 201, blue], ['max', 48, 201, blue], ['średni', 48, 212, blue],
  ['Wystąpienie opadu', 5, 224, red], ['konwekcyjnego', 5, 237, red],
  ['Ciśnienie', 5, 263, '#000'], ['zredukowane', 5, 276, '#000'], ['do poziomu morza', 5, 289, '#000'],
  ['poryw powyżej skali', 10, 334, red], ['max porywy wiatru', 10, 348, red],
  ['prędkość wiatru', 10, 368, navy], ['w środku obszaru', 10, 381, navy], ['kierunek wiatru', 10, 410, navy],
  ['Wierzchołek chmur', 5, 429, brown], ['Podstawa chmur*', 5, 444, '#000'], ['o pokryciu', 5, 455, '#000'],
  ['> 7.9 okt.', 10, 468, '#000'], ['> 6.5 okt.', 10, 479, '#555'], ['> 4.5 okt.', 10, 490, '#999'], ['> 2.5 okt.', 10, 500, '#ddd'],
  ['Widzialność', 5, 526, orange], ['Chmury:', 5, 543, '#000'],
  ['średnie', 10, 569, '#999'], ['niskie', 10, 581, '#444'], ['bardzo niskie', 10, 593, '#000'], ['Mgła', 5, 605, '#ffb400'],
  ['Czas uniwersalny (UTC)', 5, 622, '#000']
];
const leaders = [
  [[[67, 16], [133, 16], [156, 44]], '#000'],
  [[[102, 44], [120, 44], [157, 100]], brown],
  [[[92, 77], [117, 77]], red], [[[130, 76], [137, 80], [170, 110]], red],
  [[[71, 99], [135, 99], [163, 110]], '#0000ff'],
  [[[94, 120], [117, 120]], purple], [[[128, 120], [135, 120], [145, 113]], purple],
  [[[102, 138], [135, 138], [146, 145]], red],
  [[[106, 151], [111, 151]], humColor], [[[129, 151], [138, 152], [146, 165]], humColor],
  [[[103, 165], [112, 165]], '#000'], [[[128, 165], [138, 170]], '#000'],
  [[[70, 179], [140, 179]], green], [[[79, 190], [153, 190]], green],
  [[[70, 201], [112, 201]], blue], [[[128, 202], [160, 172]], blue],
  [[[81, 212], [128, 212], [160, 177]], blue],
  [[[96, 224], [143, 224], [146, 220]], red],
  [[[51, 264], [131, 264], [135, 262]], '#000'],
  [[[112, 334], [118, 334]], red], [[[130, 334], [138, 317]], red],
  [[[107, 348], [132, 348], [145, 340]], red],
  [[[92, 368], [135, 368]], navy],
  [[[86, 410], [140, 410]], navy],
  [[[100, 430], [135, 430], [185, 447]], brown],
  [[[57, 468], [135, 468], [190, 455]], '#000'],
  [[[57, 480], [143, 480]], '#555'],
  [[[57, 490], [132, 490], [143, 505]], '#999'],
  [[[57, 503], [135, 503], [140, 510]], '#ddd'],
  [[[57, 508], [138, 508]], sky], [[[57, 511], [138, 511]], sky],
  [[[67, 527], [130, 527], [175, 465]], orange],
  [[[54, 556], [185, 556]], sky], [[[54, 558], [185, 558]], sky],
  [[[49, 572], [192, 572]], '#999'],
  [[[40, 582], [135, 582]], '#444'],
  [[[74, 594], [135, 594]], '#000'],
  [[[30, 605], [217, 605], [218, 600]], '#ffb400'],
  [[[140, 623], [148, 623], [157, 608]], '#000']
];
const leaderLine = d3.line();
leaders.forEach(d => {
  svg.append('path').attr('d', leaderLine(d[0])).attr('fill', 'none').attr('stroke', d[1]).attr('stroke-width', 1);
});
svg.append('rect').attr('x', 11).attr('y', 504).attr('width', 45).attr('height', 12).attr('fill', sky);
svg.append('rect').attr('x', 10).attr('y', 551).attr('width', 41).attr('height', 12).attr('fill', sky);
txt('> 0.1 okt.', 10, 510, '#fff');
txt('wysokie', 11, 557, '#fff');
legendTexts.forEach(d => txt(d[0], d[1], d[2], d[3]));
const windNote = txt('Wiatr na ', 5, 318, '#000');
windNote.append('tspan').attr('font-family', '"Liberation Serif", serif').text('10m');
windNote.append('tspan').text(':');
txt('* powyżej poziomu morza', 5, 648, '#000', 'start', 9);
</script>
</body>
</html>
